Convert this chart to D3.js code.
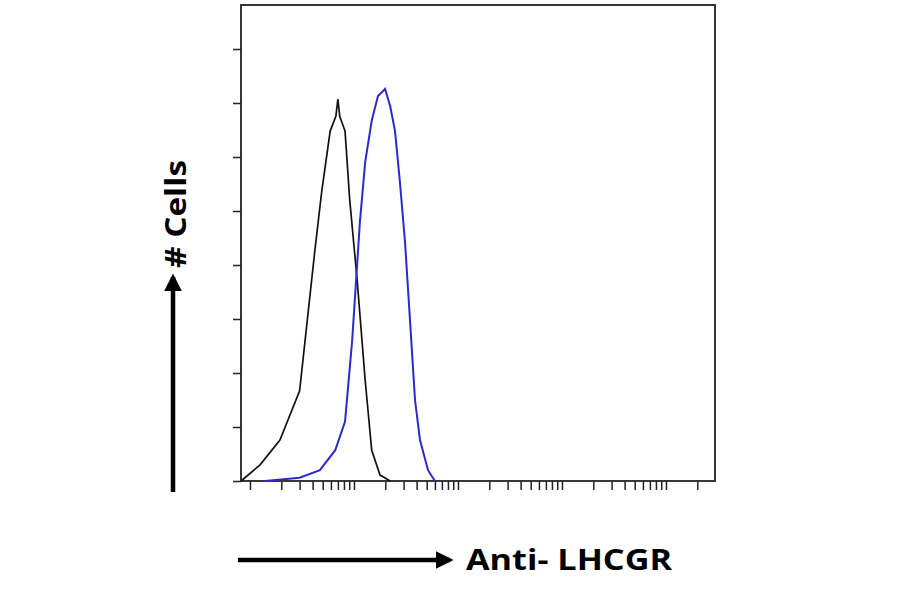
<!DOCTYPE html><html><head><meta charset="utf-8">
<script src="https://cdn.jsdelivr.net/npm/d3@7"></script>
<style>body{margin:0;background:#fff}</style></head><body>
<svg id="c" width="900" height="594"></svg>
<script>
const controlX=[0.82,1.25,1.94,3.0,4.2,4.9,5.9,6.7,7.0,7.3,8.2,9.1,10.7,12.8,14.8,17.8,22.3];
const controlY=[0,0.3,0.76,1.67,4.26,5.37,6.48,6.76,7.07,6.75,6.48,5.2,3.74,1.87,0.57,0.11,0];
const lhcgrX=[1.39,3.0,4.7,6.6,8.2,9.6,11.4,12.8,14.8,17.0,19.9,22.3,24.8,27.6,30.9,34.6,38.6,43.1,51.5,60];
const lhcgrY=[0,0.06,0.2,0.57,1.1,2.6,4.8,5.9,6.67,7.13,7.26,6.94,6.48,5.55,4.44,2.96,1.5,0.76,0.2,0];
const yTicks=[0,1,2,3,4,5,6,7,8];
const svg=d3.select("#c");
const L=241,R=715,T=5,B=481;
const x=d3.scaleLog().domain([Math.pow(10,-9/104),Math.pow(10,465/104)]).range([L,R]);
const y=d3.scaleLinear().domain([0,476/54]).range([B,T]);
svg.append("rect").attr("x",L).attr("y",T).attr("width",R-L).attr("height",B-T).attr("fill","none").attr("stroke","#222").attr("stroke-width",1.8);
const xt=[];for(let k=0;k<5;k++)for(let m=1;m<10;m++){const v=m*Math.pow(10,k);if(v<=x.domain()[1])xt.push(v);}
svg.append("g").attr("transform",`translate(0,${B})`).call(d3.axisBottom(x).tickValues(xt).tickFormat("").tickSize(9).tickSizeOuter(0))
 .call(g=>{g.select(".domain").remove();g.selectAll("line").attr("stroke","#222").attr("stroke-width",1.5);});
svg.append("g").attr("transform",`translate(${L},0)`).call(d3.axisLeft(y).tickValues(yTicks).tickFormat("").tickSize(8).tickSizeOuter(0))
 .call(g=>{g.select(".domain").remove();g.selectAll("line").attr("stroke","#222").attr("stroke-width",1.5);});
svg.append("path").datum(controlX.map((v,i)=>[v,controlY[i]])).attr("d",d3.line().x(d=>x(d[0])).y(d=>y(d[1]))).attr("fill","none").attr("stroke","#111").attr("stroke-width",1.7);
svg.append("path").datum(lhcgrX.map((v,i)=>[v,lhcgrY[i]])).attr("d",d3.line().x(d=>x(d[0])).y(d=>y(d[1]))).attr("fill","none").attr("stroke","#2a2ad0").attr("stroke-width",2);
const defs=svg.append("defs");
defs.append("marker").attr("id","ah").attr("viewBox","0 0 10 10").attr("refX",8).attr("refY",5).attr("markerWidth",4).attr("markerHeight",4).attr("orient","auto")
 .append("path").attr("d","M0,0L10,5L0,10Z").attr("fill","#000");
svg.append("line").attr("x1",173).attr("y1",492).attr("x2",173).attr("y2",277).attr("stroke","#000").attr("stroke-width",4.5).attr("marker-end","url(#ah)");
svg.append("line").attr("x1",238).attr("y1",560).attr("x2",450).attr("y2",560).attr("stroke","#000").attr("stroke-width",4.5).attr("marker-end","url(#ah)");
svg.append("text").attr("transform","translate(186,214) rotate(-90)").attr("text-anchor","middle").attr("font-family","Open Sans, Liberation Sans, sans-serif").attr("font-weight","bold").attr("font-size",28).attr("textLength",108).attr("lengthAdjust","spacingAndGlyphs").text("# Cells");
svg.append("text").attr("x",466).attr("y",570).attr("font-family","Open Sans, Liberation Sans, sans-serif").attr("font-weight","bold").attr("font-size",28).attr("textLength",206).attr("lengthAdjust","spacingAndGlyphs").text("Anti- LHCGR");
</script></body></html>
